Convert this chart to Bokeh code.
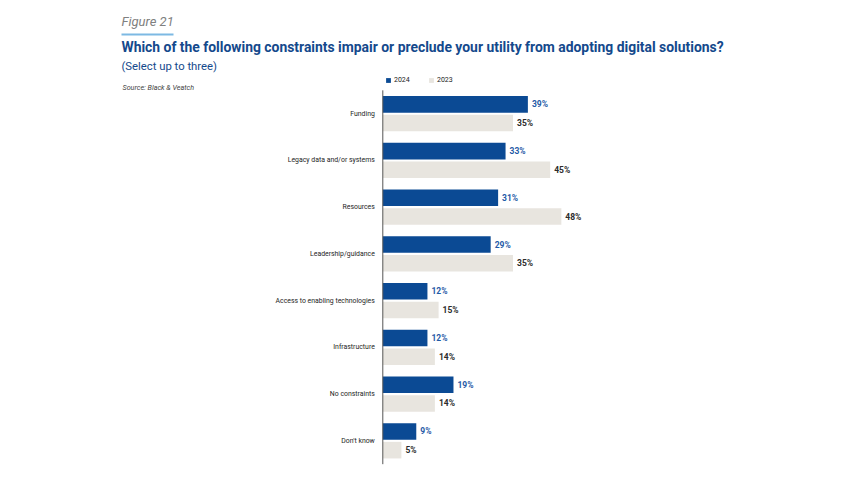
from bokeh.plotting import figure
from bokeh.models import (ColumnDataSource, Range1d, Label, BoxAnnotation, Legend, LegendItem)
from bokeh.core.properties import value
from bokeh.embed import file_html
from bokeh.resources import INLINE

categories = ["Funding", "Legacy data and/or systems", "Resources", "Leadership/guidance",
              "Access to enabling technologies", "Infrastructure", "No constraints", "Don't know"]
values_2024 = [39, 33, 31, 29, 12, 12, 19, 9]
values_2023 = [35, 45, 48, 35, 15, 14, 14, 5]
series_names = ["2024", "2023"]

BLUE = "#0b4a94"
BEIGE = "#e8e5df"
FONT = "Roboto"

W, H = 845, 470
# layout: pixel position of the value axis origin, pixels per percent,
# pixel centre of first category and the spacing between categories
X0_PX, PX_PER_PCT = 382.3, 3.72
Y0_PX, ROW_PX = 113.2, 46.73

n = len(categories)
idx = list(range(n))
src = ColumnDataSource(dict(
    cat=categories,
    idx=idx,
    y24=[i - 0.2 for i in idx],
    y23=[i + 0.2 for i in idx],
    v24=values_2024,
    v23=values_2023,
    l24=[f"{v}%" for v in values_2024],
    l23=[f"{v}%" for v in values_2023],
))

p = figure(width=W, height=H, output_backend="svg", toolbar_location=None,
           x_axis_type=None, y_axis_type=None,
           x_range=Range1d(-X0_PX / PX_PER_PCT, (W - X0_PX) / PX_PER_PCT),
           y_range=Range1d((H - Y0_PX) / ROW_PX, -Y0_PX / ROW_PX),
           min_border=0, min_border_left=0, min_border_right=0,
           min_border_top=0, min_border_bottom=0)
p.outline_line_color = None
p.xgrid.visible = False
p.ygrid.visible = False

def px_x(px):
    return (px - X0_PX) / PX_PER_PCT

def px_y(py):
    return (py - Y0_PX) / ROW_PX

r24 = p.hbar(y="y24", right="v24", left=0, height=0.355, source=src, color=BLUE, line_color=None)
r23 = p.hbar(y="y23", right="v23", left=0, height=0.355, source=src, color=BEIGE, line_color=None)

# category axis line
p.segment(x0=[0], x1=[0], y0=[-0.5], y1=[n - 0.5], line_color="#555555", line_width=1)

# category labels
p.text(x=0, y="idx", text="cat", source=src, x_offset=-8, text_align="right",
       text_baseline="middle", text_font=value(FONT), text_font_size="6.9px",
       text_color="#1e1e1e")

# value labels
p.text(x="v24", y="y24", text="l24", source=src,
       x_offset=4, text_baseline="middle", text_align="left",
       text_font=value(FONT), text_font_style="bold", text_font_size="8.5px", text_color="#1f5aa6")
p.text(x="v23", y="y23", text="l23", source=src,
       x_offset=4, text_baseline="middle", text_align="left",
       text_font=value(FONT), text_font_style="bold", text_font_size="8.5px", text_color="#2b2b2b")

legend = Legend(items=[LegendItem(label=series_names[0], renderers=[r24]),
                       LegendItem(label=series_names[1], renderers=[r23])],
                orientation="horizontal", location=(385, H - 84),
                glyph_width=6, glyph_height=6, label_standoff=3, spacing=14,
                padding=0, margin=0, border_line_color=None, background_fill_alpha=0,
                label_text_font=FONT, label_text_font_size="7px", label_text_color="#222222",
                label_height=6, label_text_baseline="middle")
p.add_layout(legend, "center")

# headings
p.add_layout(Label(x=px_x(121), y=px_y(21), text="Figure 21",
                   text_font=FONT, text_font_style="italic", text_font_size="13px",
                   text_color="#808080", text_baseline="middle"))
p.add_layout(BoxAnnotation(left=px_x(121), right=px_x(173), bottom=px_y(35), top=px_y(33),
                           fill_color="#7db9e3", fill_alpha=1, line_color=None))
p.add_layout(Label(x=px_x(121), y=px_y(46),
                   text="Which of the following constraints impair or preclude your utility from adopting digital solutions?",
                   text_font=FONT, text_font_style="bold", text_font_size="13.9px",
                   text_color="#14498c", text_baseline="middle"))
p.add_layout(Label(x=px_x(121), y=px_y(66),
                   text="(Select up to three)",
                   text_font=FONT, text_font_size="11.3px",
                   text_color="#14498c", text_baseline="middle"))
p.add_layout(Label(x=px_x(122), y=px_y(87),
                   text="Source: Black & Veatch",
                   text_font=FONT, text_font_style="italic", text_font_size="7.2px",
                   text_color="#444444", text_baseline="middle"))

open("out.html", "w").write(file_html(p, INLINE))
